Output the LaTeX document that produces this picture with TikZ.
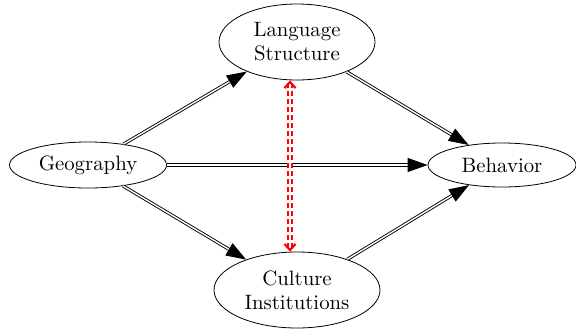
\documentclass[tikz,border=0pt]{standalone}
\usepackage{amsmath}
\usepackage{tikz}
\usetikzlibrary{shapes.geometric,arrows.meta}

\begin{document}
\begin{tikzpicture}[x=0.5pt,y=-0.5pt,
    var/.style={ellipse,draw,inner sep=0pt,align=center,
      font=\fontsize{10.4}{12}\selectfont},
    link/.style={double,line width=0.45pt,double distance=0.7pt,
      -{Triangle[length=10pt,width=7pt]}},
    corr/.style={red,double,line width=1.1pt,double distance=0.7pt,
      dash pattern=on 2.5pt off 1.5pt,
      {Straight Barb[length=3pt,width=5.5pt]}-{Straight Barb[length=3pt,width=5.5pt]}}]
  \useasboundingbox (0,0) rectangle (576,332);

  \node[var,minimum width=78.5pt,minimum height=23pt] (geo) at (88,165) {Geography};
  \node[var,minimum width=78pt,minimum height=38pt] (lang) at (297,42) {Language\\Structure};
  \node[var,minimum width=83pt,minimum height=38pt] (cult) at (297,290) {Culture\\Institutions};
  \node[var,minimum width=74pt,minimum height=22pt] (beh) at (502,165) {Behavior};

  \draw[link] (geo) -- (lang);
  \draw[link] (geo) -- (cult);
  \draw[link] (geo) -- (beh);
  \draw[link] (lang) -- (beh);
  \draw[link] (cult) -- (beh);

  % correlation between the two mediators
  \draw[corr] ([xshift=-3.5pt]lang.south) -- ([xshift=-3.5pt]cult.north);
\end{tikzpicture}
\end{document}
